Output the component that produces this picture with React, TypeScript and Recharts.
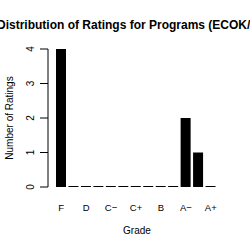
import { BarChart, Bar, XAxis, YAxis } from "recharts";

const grades = ["F", "D−", "D", "D+", "C−", "C", "C+", "B−", "B", "B+", "A−", "A", "A+"];
const counts = [4, 0, 0, 0, 0, 0, 0, 0, 0, 0, 2, 1, 0];
const yTicks = [0, 1, 2, 3, 4];

const FONT = "'Liberation Sans', Arial, sans-serif";

const data = grades.map((grade, i) => ({ grade, count: counts[i] }));

function YTick({ y, payload }: { y?: number; payload?: { value: number } }) {
  const ty = y ?? 0;
  return (
    <g>
      <line x1={40} x2={48} y1={ty} y2={ty} stroke="#000" />
      <text
        x={34}
        y={ty}
        transform={`rotate(-90, 34, ${ty})`}
        textAnchor="middle"
        fontSize={10}
        fontFamily={FONT}
        fill="#000"
      >
        {payload?.value}
      </text>
    </g>
  );
}

function XTick({ x, payload }: { x?: number; payload?: { value: string } }) {
  return (
    <text x={x} y={211} textAnchor="middle" fontSize={9.5} fontFamily={FONT} fill="#000">
      {payload?.value}
    </text>
  );
}

export default function App() {
  return (
    <div style={{ position: "absolute", left: 0, top: 0, width: 250, height: 250, background: "#fff" }}>
      <svg width={250} height={250} style={{ position: "absolute", left: 0, top: 0 }}>
        <text x={-3} y={29} fontSize={12} fontWeight="bold" fontFamily={FONT} fill="#000">
          Distribution of Ratings for Programs (ECOK/…)
        </text>
        <text
          x={13}
          y={118}
          transform="rotate(-90, 13, 118)"
          textAnchor="middle"
          fontSize={10}
          fontFamily={FONT}
          fill="#000"
        >
          Number of Ratings
        </text>
        <text x={137} y={234} textAnchor="middle" fontSize={10} fontFamily={FONT} fill="#000">
          Grade
        </text>
      </svg>
      <div style={{ position: "absolute", left: 0, top: 0 }}>
        <BarChart
          width={250}
          height={250}
          data={data}
          margin={{ top: 49, right: 25, bottom: 33, left: 8 }}
          barCategoryGap={1}
        >
          <XAxis
            dataKey="grade"
            height={30}
            axisLine={false}
            tickLine={false}
            interval={1}
            padding={{ left: 7, right: 8 }}
            tick={<XTick />}
          />
          <YAxis
            width={40}
            domain={[0, 4]}
            ticks={yTicks}
            axisLine={{ stroke: "#000" }}
            tickLine={false}
            tick={<YTick />}
          />
          <Bar dataKey="count" fill="#000" minPointSize={1} isAnimationActive={false} />
        </BarChart>
      </div>
    </div>
  );
}
